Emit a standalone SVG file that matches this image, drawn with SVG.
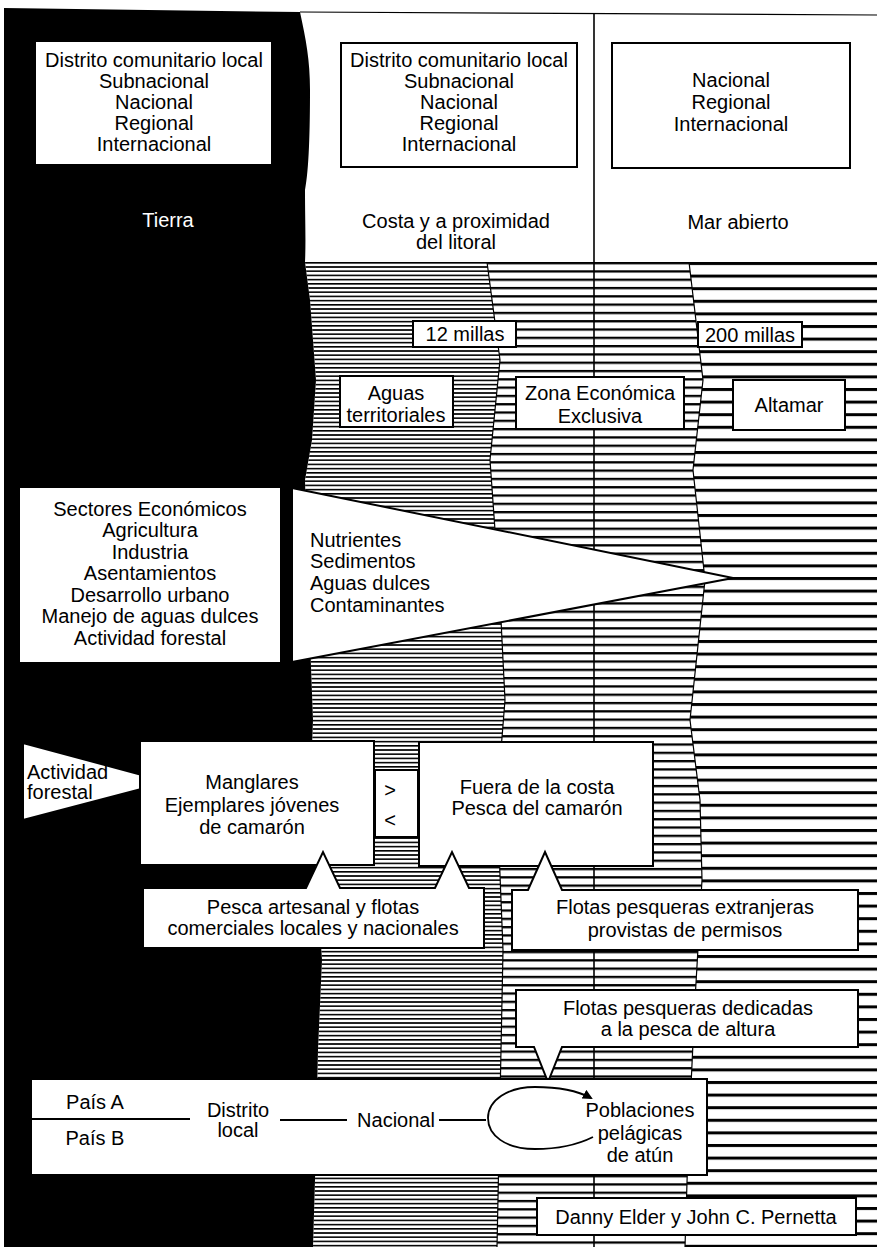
<svg xmlns="http://www.w3.org/2000/svg" width="877" height="1247" viewBox="0 0 877 1247">
<style>
.t{font-family:"Liberation Sans",Arial,sans-serif;font-size:20px;fill:#000;text-anchor:middle}
.s{text-anchor:start}
.w{fill:#fff}
.box{fill:#fff;stroke:#000;stroke-width:2}
.nb{fill:#fff;stroke:none}
.conn{stroke:#000;stroke-width:1.8;fill:none}
.edge{stroke:#000;stroke-width:1.2;fill:none}
</style>
<defs>
<pattern id="hf" width="20" height="4.2" patternUnits="userSpaceOnUse" x="0" y="262"><rect width="20" height="1.6" fill="#000"/></pattern>
<pattern id="hm" width="20" height="8.3" patternUnits="userSpaceOnUse" x="0" y="262"><rect width="20" height="2.3" fill="#000"/></pattern>
<pattern id="hc" width="20" height="12.6" patternUnits="userSpaceOnUse" x="0" y="262"><rect width="20" height="3" fill="#000"/></pattern>
<marker id="ah" markerWidth="10" markerHeight="10" refX="8" refY="5" orient="auto" markerUnits="userSpaceOnUse"><path d="M0,0 L10,5 L0,10 Z" fill="#000"/></marker>
</defs>
<rect width="877" height="1247" fill="#fff"/>
<g id="background">
<path id="land" d="M4,8 L300,12 C306,40 310,60 310,90 C310,130 309,170 305,190 C305,220 306,240 305,262 L310,300 L316,380 L312,440 L305,480 L307,560 L313,720 L310,800 L318,900 L322,960 L318,1050 L315,1180 L313,1247 L4,1247 Z" fill="#000"/>
<path id="zone1" d="M305,262 L310,300 L316,380 L312,440 L305,480 L307,560 L313,720 L310,800 L318,900 L322,960 L318,1050 L315,1180 L313,1247 L497,1247 L500,1100 L503,950 L497,800 L505,700 L500,600 L490,460 L500,360 L487,262 Z" fill="url(#hf)"/>
<path id="zone2" d="M487,262 L500,360 L490,460 L500,600 L505,700 L497,800 L503,950 L500,1100 L497,1247 L685,1247 L688,1150 L695,1000 L702,880 L700,800 L690,720 L705,580 L693,470 L703,380 L689,262 Z" fill="url(#hm)"/>
<path id="zone3" d="M689,262 L703,380 L693,470 L705,580 L690,720 L700,800 L702,880 L695,1000 L688,1150 L685,1247 L877,1247 L877,262 Z" fill="url(#hc)"/>
<path class="edge" d="M487,262 L500,360 L490,460 L500,600 L505,700 L497,800 L503,950 L500,1100 L497,1247"/>
<path class="edge" d="M689,262 L703,380 L693,470 L705,580 L690,720 L700,800 L702,880 L695,1000 L688,1150 L685,1247"/>
<line class="edge" x1="300" y1="12" x2="877" y2="15"/>
<line x1="594" y1="13" x2="594" y2="1247" stroke="#000" stroke-width="1.6"/>
</g>
<g id="boxA"><rect class="nb" x="36" y="42" width="235" height="122"/>
<text class="t" x="154" y="67">Distrito comunitario local</text><text class="t" x="154" y="88">Subnacional</text><text class="t" x="154" y="109">Nacional</text><text class="t" x="154" y="130">Regional</text><text class="t" x="154" y="151">Internacional</text></g>
<g id="boxB"><rect class="box" x="341" y="43" width="236" height="124"/>
<text class="t" x="459" y="67">Distrito comunitario local</text><text class="t" x="459" y="88">Subnacional</text><text class="t" x="459" y="109">Nacional</text><text class="t" x="459" y="130">Regional</text><text class="t" x="459" y="151">Internacional</text></g>
<g id="boxC"><rect class="box" x="612" y="43" width="238" height="125"/>
<text class="t" x="731" y="87">Nacional</text><text class="t" x="731" y="109">Regional</text><text class="t" x="731" y="131">Internacional</text></g>
<g id="lblTierra"><text class="t w" x="168" y="227" style="fill:#fff">Tierra</text></g>
<g id="lblCosta"><text class="t" x="456" y="228">Costa y a proximidad</text><text class="t" x="456" y="249">del litoral</text></g>
<g id="lblMar"><text class="t" x="738" y="229">Mar abierto</text></g>
<g id="m12"><rect class="box" x="413" y="321" width="103" height="26"/><text class="t" x="465" y="341">12 millas</text></g>
<g id="m200"><rect class="box" x="698" y="322" width="104" height="25"/><text class="t" x="750" y="342">200 millas</text></g>
<g id="aguas"><rect class="box" x="340" y="376" width="113" height="51"/><text class="t" x="396" y="400">Aguas</text><text class="t" x="396" y="422">territoriales</text></g>
<g id="zee"><rect class="box" x="516" y="377" width="168" height="52"/><text class="t" x="600" y="400">Zona Económica</text><text class="t" x="600" y="423">Exclusiva</text></g>
<g id="altamar"><rect class="box" x="733" y="380" width="112" height="50"/><text class="t" x="789" y="412">Altamar</text></g>
<g id="sectores"><rect class="nb" x="20" y="488" width="260" height="174"/>
<text class="t" x="150" y="516">Sectores Económicos</text><text class="t" x="150" y="537">Agricultura</text><text class="t" x="150" y="559">Industria</text><text class="t" x="150" y="580">Asentamientos</text><text class="t" x="150" y="602">Desarrollo urbano</text><text class="t" x="150" y="623">Manejo de aguas dulces</text><text class="t" x="150" y="645">Actividad forestal</text></g>
<g id="flujo"><polygon class="box" points="292,488 292,662 733,578"/>
<text class="t s" x="310" y="547">Nutrientes</text><text class="t s" x="310" y="568">Sedimentos</text><text class="t s" x="310" y="590">Aguas dulces</text><text class="t s" x="310" y="612">Contaminantes</text></g>
<g id="forestal"><polygon class="box" points="23,743 23,820 168,782"/><text class="t s" x="27" y="779">Actividad</text><text class="t s" x="27" y="799">forestal</text></g>
<g id="manglares"><rect class="box" x="140" y="741" width="234" height="124"/><text class="t" x="252" y="789">Manglares</text><text class="t" x="252" y="812">Ejemplares jóvenes</text><text class="t" x="252" y="834">de camarón</text></g>
<g id="chev"><rect class="box" x="375" y="770" width="43" height="67"/><text class="t" x="390" y="797">&gt;</text><text class="t" x="390" y="827">&lt;</text></g>
<g id="fuera"><rect class="box" x="419" y="742" width="234" height="124"/><text class="t" x="537" y="794">Fuera de la costa</text><text class="t" x="537" y="815">Pesca del camarón</text></g>
<g id="artesanal"><path class="box" d="M143,888 H306 L323,852 L340,888 H435 L452,852 L469,888 H484 V948 H143 Z"/><text class="t" x="313" y="914">Pesca artesanal y flotas</text><text class="t" x="313" y="935">comerciales locales y nacionales</text></g>
<g id="extranjeras"><path class="box" d="M512,890 H528 L545,852 L562,890 H858 V950 H512 Z"/><text class="t" x="685" y="914">Flotas pesqueras extranjeras</text><text class="t" x="685" y="937">provistas de permisos</text></g>
<g id="altura"><path class="box" d="M516,990 H858 V1047 H562 L548,1082 L534,1047 H516 Z"/><text class="t" x="688" y="1015">Flotas pesqueras dedicadas</text><text class="t" x="688" y="1036">a la pesca de altura</text></g>
<g id="paises"><rect class="box" x="31" y="1079" width="676" height="96"/>
<text class="t" x="95" y="1109">País A</text><text class="t" x="95" y="1145">País B</text>
<text class="t" x="238" y="1117">Distrito</text><text class="t" x="238" y="1137">local</text>
<text class="t" x="396" y="1127">Nacional</text>
<text class="t" x="640" y="1117">Poblaciones</text><text class="t" x="640" y="1140">pelágicas</text><text class="t" x="640" y="1162">de atún</text></g>
<g id="connectors">
<line class="conn" x1="31" y1="1119" x2="190" y2="1119"/>
<line class="conn" x1="280" y1="1120" x2="347" y2="1120"/>
<line class="conn" x1="439" y1="1120" x2="486" y2="1120"/>
<path class="conn" d="M593,1137 C575,1146 555,1149 535,1149 C505,1149 488,1135 488,1118 C488,1100 508,1087 535,1087 C560,1087 578,1091 591,1098" marker-end="url(#ah)"/>
</g>
<g id="credit"><rect class="box" x="537" y="1198" width="319" height="37"/><text class="t" x="696" y="1224">Danny Elder y John C. Pernetta</text></g>
</svg>
